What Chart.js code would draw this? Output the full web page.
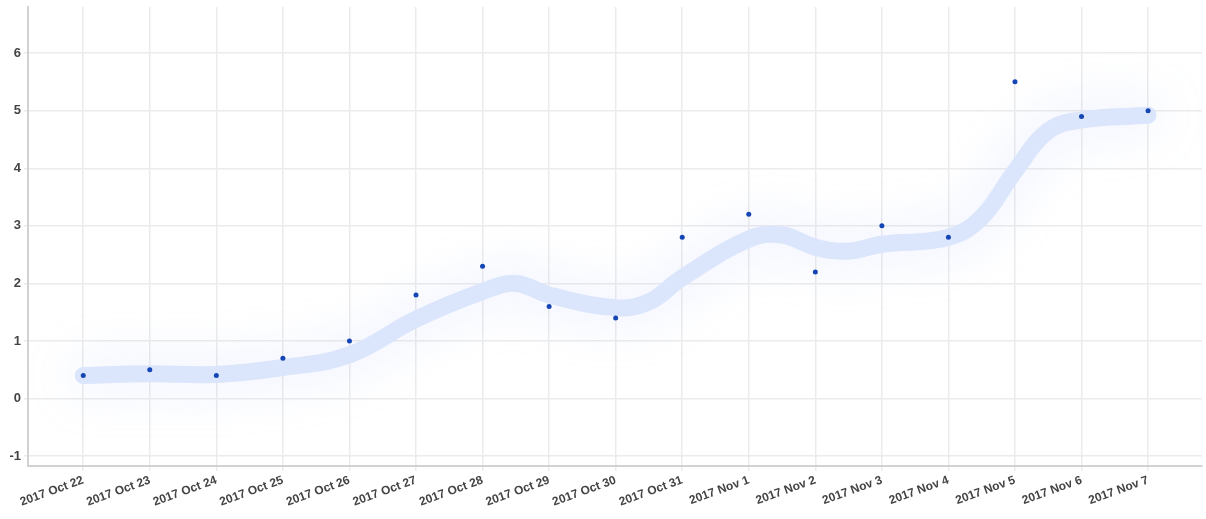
<!DOCTYPE html>
<html>
<head>
<meta charset="utf-8">
<script src="https://cdn.jsdelivr.net/npm/chart.js@4.4.0/dist/chart.umd.min.js"></script>
<style>
  html, body { margin: 0; padding: 0; background: #fff; }
  #wrap { width: 1206px; height: 519px; position: relative; }
</style>
</head>
<body>
<div id="wrap"><canvas id="myChart"></canvas></div>
<script>
// days on the x axis
var days = ['2017 Oct 22', '2017 Oct 23', '2017 Oct 24', '2017 Oct 25', '2017 Oct 26',
    '2017 Oct 27', '2017 Oct 28', '2017 Oct 29', '2017 Oct 30', '2017 Oct 31',
    '2017 Nov 1', '2017 Nov 2', '2017 Nov 3', '2017 Nov 4', '2017 Nov 5',
    '2017 Nov 6', '2017 Nov 7'];

// daily values (dots)
var scores = [0.4, 0.5, 0.4, 0.7, 1.0, 1.8, 2.3, 1.6, 1.4, 2.8, 3.2, 2.2, 3.0, 2.8, 5.5, 4.9, 5.0];

// smoothed trend (day index, value)
var trendX = [0, 1, 2, 3, 4, 5, 6, 6.5, 7, 8, 8.5, 9, 10, 10.5, 11, 11.5, 12, 13, 13.5, 14, 14.5, 15, 16];
var trendY = [0.40, 0.43, 0.42, 0.54, 0.76, 1.38, 1.86, 2.0, 1.80, 1.58, 1.68, 2.10, 2.77, 2.84, 2.63, 2.56, 2.68, 2.80, 3.15, 3.95, 4.65, 4.84, 4.92];

var yTicks = [-1, 0, 1, 2, 3, 4, 5, 6];

window.onload = function() {
    chartCreate();
}

function chartCreate() {
    var pts = [];
    for (var i = 0; i < scores.length; i++) {
        pts.push({ x: i, y: scores[i] });
    }
    var trend = [];
    for (var j = 0; j < trendX.length; j++) {
        trend.push({ x: trendX[j], y: trendY[j] });
    }

    // soft glow round the trend line
    const glow = {
        id: 'glow',
        beforeDatasetDraw: function(chart, args) {
            if (args.index !== 1) return;
            const ctx = chart.ctx;
            ctx.save();
            ctx.shadowColor = 'rgba(170,188,245,0.35)';
            ctx.shadowBlur = 50;
        },
        afterDatasetDraw: function(chart, args) {
            if (args.index !== 1) return;
            chart.ctx.restore();
        }
    };

    const data = {
        datasets: [{
            label: 'values',
            data: pts,
            showLine: false,
            pointRadius: 2.5,
            pointBackgroundColor: '#1446b4',
            pointBorderWidth: 0
        }, {
            label: 'trend',
            data: trend,
            showLine: true,
            borderColor: 'rgb(219,229,252)',
            borderWidth: 17,
            borderCapStyle: 'round',
            borderJoinStyle: 'round',
            tension: 0.4,
            pointRadius: 0,
            fill: false
        }]
    };

    const xFont = { family: '"Liberation Sans", Arial, sans-serif', size: 12, weight: 'bold' };
    const yFont = { family: '"Liberation Sans", Arial, sans-serif', size: 13, weight: 'bold' };

    const config = {
        type: 'scatter',
        data: data,
        plugins: [glow],
        options: {
            responsive: true,
            maintainAspectRatio: false,
            animation: false,
            layout: { padding: { top: 7, right: 4, left: 0, bottom: 0 } },
            plugins: { legend: { display: false }, tooltip: { enabled: false } },
            scales: {
                x: {
                    type: 'linear',
                    min: -0.83,
                    max: 16.81,
                    grid: { color: '#ebebeb', lineWidth: 1.5, tickLength: 5 },
                    border: { color: '#d2d2d2', width: 2 },
                    ticks: {
                        stepSize: 1,
                        includeBounds: false,
                        autoSkip: false,
                        minRotation: 20,
                        maxRotation: 20,
                        color: '#444',
                        font: xFont,
                        padding: 2,
                        callback: function(v) { return days[v]; }
                    },
                    afterFit: function(s) { s.height = 53; s.paddingLeft = 0; s.paddingRight = 0; }
                },
                y: {
                    min: -1.17,
                    max: 6.80,
                    afterBuildTicks: function(s) {
                        s.ticks = yTicks.map(function(v) { return { value: v }; });
                    },
                    grid: { color: '#ebebeb', lineWidth: 1.5, tickLength: 4 },
                    border: { color: '#d2d2d2', width: 2 },
                    ticks: { color: '#444', font: yFont, padding: 3 },
                    afterFit: function(s) { s.width = 28; s.paddingTop = 0; s.paddingBottom = 0; }
                }
            }
        }
    };
    const myChart = new Chart(document.getElementById('myChart'), config);
}
</script>
</body>
</html>
